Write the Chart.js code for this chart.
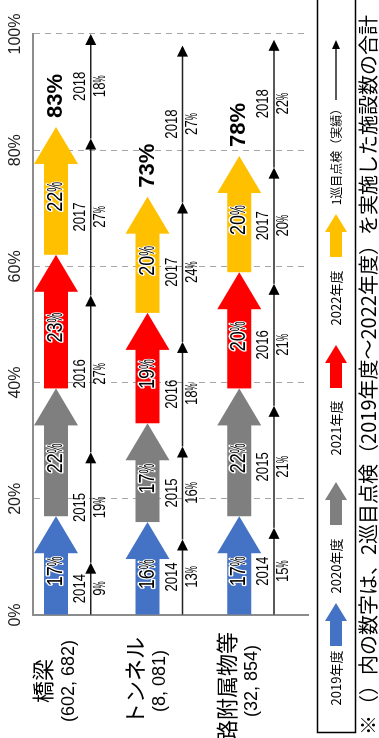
<!DOCTYPE html>
<html>
<head>
<meta charset="utf-8">
<script src="https://cdn.jsdelivr.net/npm/chart.js@4.4.1/dist/chart.umd.min.js"></script>
<style>
  html, body { margin: 0; padding: 0; background: #fff; overflow: hidden; width: 379px; height: 738px; }
  /* the chart is drawn landscape and turned a quarter turn to the left */
  #wrap { position: absolute; left: 0; top: 0; width: 738px; height: 379px;
          transform-origin: 0 0; transform: translate(0, 738px) rotate(-90deg); }
</style>
</head>
<body>
<div id="wrap"><canvas id="chart" width="738" height="379"></canvas></div>
<script>
// --- data ---
const categories = ["橋梁", "トンネル", "道路附属物等"];
const facilityCounts = ["(602, 682)", "(8, 081)", "(32, 854)"];

// 2巡目点検 (arrows), % per fiscal year
const secondYears = ["2019年度", "2020年度", "2021年度", "2022年度"];
const fy2019 = [17, 16, 17];
const fy2020 = [22, 17, 22];
const fy2021 = [23, 19, 20];
const fy2022 = [22, 20, 20];
const secondTotals = [83, 73, 78];

// 1巡目点検 (実績), % per year
const firstYears = ["2014", "2015", "2016", "2017", "2018"];
const fy2014 = [9, 13, 15];
const fy2015 = [19, 16, 21];
const fy2016 = [27, 18, 21];
const fy2017 = [27, 24, 20];
const fy2018 = [18, 27, 22];
const firstLegend = "1巡目点検（実績）";

const xTicks = [0, 20, 40, 60, 80, 100];
const note = "※（）内の数字は、2巡目点検（2019年度～2022年度）を実施した施設数の合計";

const secondColors = ["#4472C4", "#7F7F7F", "#FF0000", "#FFC000"];
const SANS = '"Liberation Sans", Arial, sans-serif';
const CJK = '"Noto Sans CJK JP", sans-serif';

const secondSeries = [fy2019, fy2020, fy2021, fy2022];
const firstSeries = [fy2014, fy2015, fy2016, fy2017, fy2018];

const datasets = [
  ...secondSeries.map((d, i) => ({
    label: secondYears[i], data: d, stack: "second", arrowColor: secondColors[i],
    backgroundColor: "rgba(0,0,0,0)", borderWidth: 0,
  })),
  ...firstSeries.map((d, i) => ({
    label: firstYears[i], data: d, stack: "first",
    backgroundColor: "rgba(0,0,0,0)", borderWidth: 0,
  })),
];

// draw text squeezed horizontally (the source uses a narrow face)
function squeezed(ctx, s, x, y, sx, halo) {
  ctx.save();
  ctx.translate(x, y);
  ctx.scale(sx, 1);
  ctx.textAlign = "left";
  ctx.textBaseline = "middle";
  if (halo) {
    ctx.lineWidth = 3;
    ctx.lineJoin = "round";
    ctx.strokeStyle = "#fff";
    ctx.strokeText(s, 0, 0);
  }
  ctx.fillStyle = "#000";
  ctx.fillText(s, 0, 0);
  ctx.restore();
}

function pctLabel(ctx, value, cx, cy, size, halo) {
  ctx.font = `${size}px ${SANS}`;
  const num = String(value);
  const wn = ctx.measureText(num).width * 0.82;
  const wp = ctx.measureText("%").width * 0.5;
  const x = cx - (wn + wp) / 2;
  squeezed(ctx, num, x, cy, 0.82, halo);
  squeezed(ctx, "%", x + wn, cy, 0.5, halo);
}

function yearLabel(ctx, s, cx, cy, size) {
  ctx.font = `${size}px ${SANS}`;
  const w = ctx.measureText(s).width * 0.82;
  squeezed(ctx, s, cx - w / 2, cy, 0.82, false);
}

function fatArrow(ctx, x0, x1, y, shaft, head, headLen, color) {
  const hl = Math.min(headLen, (x1 - x0) * 0.7);
  ctx.beginPath();
  ctx.moveTo(x0, y - shaft);
  ctx.lineTo(x1 - hl, y - shaft);
  ctx.lineTo(x1 - hl, y - head);
  ctx.lineTo(x1, y);
  ctx.lineTo(x1 - hl, y + head);
  ctx.lineTo(x1 - hl, y + shaft);
  ctx.lineTo(x0, y + shaft);
  ctx.closePath();
  ctx.fillStyle = color;
  ctx.fill();
}

function thinArrow(ctx, x0, x1, y, headLen, head) {
  ctx.save();
  ctx.strokeStyle = "#222";
  ctx.lineWidth = 1.5;
  ctx.beginPath();
  ctx.moveTo(x0, y);
  ctx.lineTo(x1 - 2, y);
  ctx.stroke();
  ctx.fillStyle = "#000";
  ctx.beginPath();
  ctx.moveTo(x1, y);
  ctx.lineTo(x1 - headLen, y - head);
  ctx.lineTo(x1 - headLen, y + head);
  ctx.closePath();
  ctx.fill();
  ctx.restore();
}

const arrowPlugin = {
  id: "arrows",
  afterDatasetsDraw(chart) {
    const ctx = chart.ctx;
    ctx.save();
    chart.data.datasets.forEach((ds, di) => {
      const meta = chart.getDatasetMeta(di);
      meta.data.forEach((bar, i) => {
        const { x, y, base, height } = bar.getProps(["x", "y", "base", "height"], true);
        const v = ds.data[i];
        if (ds.stack === "second") {
          fatArrow(ctx, base, x, y, 12, 22, 37, ds.arrowColor);
        } else {
          const yl = y - height * 0.24;
          thinArrow(ctx, base, x, yl, 11, 5.5);
        }
      });
    });
    // labels on top of all arrows
    chart.data.datasets.forEach((ds, di) => {
      const meta = chart.getDatasetMeta(di);
      meta.data.forEach((bar, i) => {
        const { x, y, base, height } = bar.getProps(["x", "y", "base", "height"], true);
        const v = ds.data[i];
        const mid = (base + x) / 2;
        if (ds.stack === "second") {
          pctLabel(ctx, v, mid - 6, y, 22, true);
        } else {
          const yl = y - height * 0.24;
          yearLabel(ctx, ds.label, mid, yl - 10, 16);
          pctLabel(ctx, v, mid, yl + 10, 16, false);
        }
      });
    });
    // totals after the last arrow
    const lastMeta = chart.getDatasetMeta(secondSeries.length - 1);
    lastMeta.data.forEach((bar, i) => {
      ctx.font = `bold 22px ${SANS}`;
      ctx.fillStyle = "#000";
      ctx.textAlign = "left";
      ctx.textBaseline = "middle";
      ctx.fillText(secondTotals[i] + "%", bar.x + 9, bar.y);
    });
    ctx.restore();
  },
  afterDraw(chart) {
    const ctx = chart.ctx;
    const ys = chart.scales.y;
    ctx.save();
    ctx.fillStyle = "#000";
    ctx.textBaseline = "middle";
    // category names + facility counts
    categories.forEach((name, i) => {
      const cy = ys.getPixelForValue(i);
      ctx.textAlign = "center";
      ctx.font = `22px ${CJK}`;
      let w = ctx.measureText(name).width;
      ctx.fillText(name, Math.min(57, 106 - w / 2), cy - 36);
      ctx.font = `18px ${SANS}`;
      w = ctx.measureText(facilityCounts[i]).width;
      ctx.fillText(facilityCounts[i], Math.min(57, 101 - w / 2), cy - 10);
    });

    // legend box
    const ly = 336;
    ctx.lineWidth = 1.5;
    ctx.strokeStyle = "#000";
    ctx.strokeRect(5.5, 317.5, 734, 38);
    const textCx = [60, 172, 310, 440, 584];
    const symX = [92, 213, 350, 481, 638];
    ctx.font = `13px ${CJK}`;
    ctx.textAlign = "center";
    secondYears.forEach((lab, i) => {
      ctx.fillStyle = "#000";
      ctx.fillText(lab, textCx[i], ly);
      fatArrow(ctx, symX[i], symX[i] + 43, ly, 6, 11, 18, secondColors[i]);
    });
    ctx.fillStyle = "#000";
    ctx.font = `12px ${CJK}`;
    ctx.fillText(firstLegend, textCx[4], ly);
    thinArrow(ctx, symX[4], symX[4] + 60, ly, 9, 4);

    // footnote
    ctx.fillStyle = "#000";
    ctx.font = `20px ${CJK}`;
    ctx.textAlign = "left";
    ctx.fillText(note, 3, 368);
    ctx.restore();
  },
};

new Chart(document.getElementById("chart"), {
  type: "bar",
  data: { labels: categories, datasets },
  plugins: [arrowPlugin],
  options: {
    indexAxis: "y",
    responsive: false,
    animation: false,
    devicePixelRatio: 1,
    layout: { padding: { left: 0, top: 0, right: 34, bottom: 71 } },
    datasets: { bar: { categoryPercentage: 1, barPercentage: 1 } },
    plugins: { legend: { display: false }, tooltip: { enabled: false } },
    scales: {
      x: {
        stacked: true,
        position: "top",
        min: 0,
        max: 100,
        afterBuildTicks: (s) => { s.ticks = xTicks.map((v) => ({ value: v })); },
        afterFit: (s) => { s.height = 33; },
        ticks: {
          padding: 8,
          color: "#222",
          font: { family: SANS, size: 16 },
          callback: (v) => v + "%",
        },
        grid: {
          drawTicks: false,
          color: (c) => (c.tick && c.tick.value === 0 ? "rgba(0,0,0,0)" : "#A6A6A6"),
          lineWidth: 1,
        },
        border: { display: true, color: "#8C8C8C", width: 2, dash: [6, 5] },
      },
      y: {
        stacked: true,
        afterFit: (s) => { s.width = 123; },
        ticks: { display: false },
        grid: { display: false },
        border: { display: true, color: "#8C8C8C", width: 2 },
      },
    },
  },
});
</script>
</body>
</html>
